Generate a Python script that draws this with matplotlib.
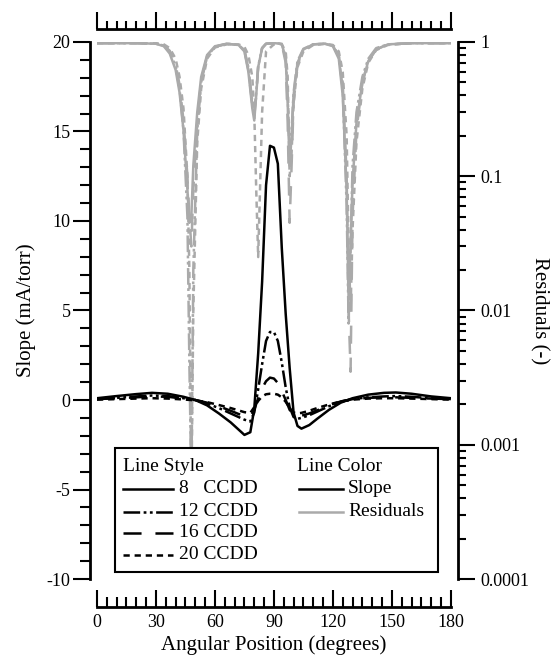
import numpy as np
import matplotlib
matplotlib.use("Agg")
import matplotlib.pyplot as plt
from matplotlib.lines import Line2D
from matplotlib.patches import Rectangle
from matplotlib.ticker import MultipleLocator, LogLocator, FuncFormatter, NullFormatter

plt.rcParams["font.family"] = ["Liberation Serif", "DejaVu Serif"]
plt.rcParams["axes.unicode_minus"] = False
plt.rcParams["lines.scale_dashes"] = False

# angular position (degrees) for slope curves
ang_slope = [0, 10, 20, 28, 36, 44, 50, 56, 62, 68, 72, 75, 78, 80, 82, 84, 86, 88, 90,
             92, 94, 96, 98, 100, 102, 104, 108, 112, 118, 124, 130, 138, 146, 152, 160, 170, 180]
slope_8 = [0.10, 0.22, 0.33, 0.40, 0.35, 0.18, 0.00, -0.30, -0.75, -1.25, -1.65, -1.95, -1.80,
           -0.50, 2.60, 6.60, 12.00, 14.20, 14.10, 13.20, 8.50, 4.80, 1.80, -0.70, -1.45, -1.60,
           -1.40, -1.05, -0.55, -0.15, 0.10, 0.30, 0.40, 0.42, 0.35, 0.20, 0.10]
slope_12 = [0.05, 0.12, 0.20, 0.25, 0.22, 0.10, 0.00, -0.20, -0.45, -0.75, -0.95, -1.10, -1.20,
            -0.70, 0.60, 2.00, 3.30, 3.80, 3.80, 3.30, 2.10, 0.70, -0.40, -0.95, -1.05, -1.00,
            -0.85, -0.65, -0.35, -0.10, 0.05, 0.15, 0.20, 0.22, 0.18, 0.10, 0.05]
slope_16 = [0.05, 0.10, 0.15, 0.20, 0.18, 0.08, 0.00, -0.15, -0.35, -0.60, -0.78, -0.90, -0.95,
            -0.55, 0.10, 0.65, 1.05, 1.25, 1.20, 0.95, 0.50, 0.00, -0.55, -0.85, -0.90, -0.88,
            -0.75, -0.58, -0.30, -0.08, 0.05, 0.12, 0.15, 0.15, 0.12, 0.08, 0.05]
slope_20 = [0.02, 0.05, 0.08, 0.10, 0.08, 0.03, -0.02, -0.12, -0.28, -0.45, -0.58, -0.68, -0.72,
            -0.40, -0.05, 0.20, 0.32, 0.35, 0.35, 0.30, 0.15, -0.10, -0.45, -0.70, -0.75, -0.72,
            -0.60, -0.45, -0.25, -0.08, 0.02, 0.08, 0.10, 0.10, 0.08, 0.05, 0.02]

# angular position (degrees) for residual curves
ang_res = [0, 20, 30, 34, 37, 40, 42, 44, 46, 47, 48, 49, 51, 53, 56, 60, 66, 72, 75, 77, 79,
           80, 81, 82, 84, 86, 90, 94, 96, 97, 98, 99, 100, 102, 105, 110, 116, 120, 123, 125,
           127, 128, 129, 130, 132, 135, 138, 142, 148, 160, 180]
res_8 = [0.98, 0.98, 0.97, 0.93, 0.82, 0.62, 0.42, 0.22, 0.08, 0.045, 0.05, 0.12, 0.30, 0.55,
         0.80, 0.93, 0.97, 0.95, 0.85, 0.60, 0.32, 0.26, 0.40, 0.65, 0.90, 0.97, 0.98, 0.97,
         0.75, 0.35, 0.12, 0.20, 0.40, 0.70, 0.88, 0.96, 0.97, 0.93, 0.75, 0.40, 0.08, 0.012,
         0.03, 0.09, 0.25, 0.50, 0.72, 0.88, 0.96, 0.98, 0.98]
res_12 = [0.98, 0.98, 0.97, 0.94, 0.85, 0.66, 0.45, 0.22, 0.05, 0.004, 0.0005, 0.02, 0.22, 0.50,
          0.78, 0.92, 0.97, 0.95, 0.87, 0.65, 0.36, 0.30, 0.42, 0.66, 0.90, 0.97, 0.98, 0.97,
          0.78, 0.40, 0.15, 0.22, 0.42, 0.72, 0.89, 0.96, 0.97, 0.94, 0.78, 0.45, 0.06, 0.008,
          0.03, 0.12, 0.30, 0.55, 0.75, 0.90, 0.96, 0.98, 0.98]
res_16 = [0.98, 0.98, 0.97, 0.94, 0.86, 0.68, 0.48, 0.26, 0.10, 0.05, 0.03, 0.08, 0.25, 0.52,
          0.78, 0.92, 0.97, 0.95, 0.86, 0.62, 0.34, 0.28, 0.40, 0.66, 0.90, 0.97, 0.98, 0.96,
          0.70, 0.25, 0.045, 0.12, 0.35, 0.68, 0.87, 0.96, 0.97, 0.94, 0.80, 0.50, 0.10, 0.01,
          0.0035, 0.05, 0.22, 0.50, 0.72, 0.88, 0.96, 0.98, 0.98]
res_20 = [0.98, 0.98, 0.98, 0.96, 0.90, 0.75, 0.55, 0.32, 0.10, 0.02, 0.0004, 0.01, 0.18, 0.45,
          0.75, 0.91, 0.96, 0.96, 0.92, 0.80, 0.55, 0.30, 0.08, 0.025, 0.30, 0.85, 0.96, 0.96,
          0.85, 0.55, 0.10, 0.15, 0.35, 0.65, 0.85, 0.95, 0.97, 0.95, 0.85, 0.60, 0.20, 0.03,
          0.01, 0.04, 0.18, 0.45, 0.70, 0.87, 0.95, 0.98, 0.98]

styles = {
    "8": "-",
    "12": (0, (12, 2.5, 2, 2.5, 2, 2.5)),
    "16": (0, (13, 10)),
    "20": (0, (4.5, 3.5)),
}
gray = "#aaaaaa"
lw = 1.8

fig = plt.figure(figsize=(5.59, 6.57), dpi=100)
ax = fig.add_axes([0.1735, 0.1187, 0.633, 0.8174])
ax2 = ax.twinx()

for key, s in zip(["8", "12", "16", "20"], [slope_8, slope_12, slope_16, slope_20]):
    ax.plot(ang_slope, s, color="black", lw=lw, ls=styles[key])
for key, r in zip(["8", "12", "16", "20"], [res_8, res_12, res_16, res_20]):
    ax2.plot(ang_res, r, color=gray, lw=lw, ls=styles[key])

ax.set_xlim(0, 180)
ax.set_ylim(-10, 20)
ax2.set_yscale("log")
ax2.set_ylim(1e-4, 1)

# left axis
ax.spines["left"].set_position(("outward", 5))
ax.spines["bottom"].set_position(("outward", 20))
ax.spines["top"].set_visible(False)
ax.spines["right"].set_visible(False)
for sp in ["left", "bottom"]:
    ax.spines[sp].set_linewidth(2)
ax.yaxis.set_major_locator(MultipleLocator(5))
ax.yaxis.set_minor_locator(MultipleLocator(1))
ax.tick_params(axis="y", which="major", direction="out", length=12, width=1.5, labelsize=13, pad=2)
ax.tick_params(axis="y", which="minor", direction="out", length=7, width=1.5)
ax.xaxis.set_major_locator(MultipleLocator(30))
ax.xaxis.set_minor_locator(MultipleLocator(5))
ax.tick_params(axis="x", which="major", direction="in", length=12, width=1.5, labelsize=13, pad=5)
ax.tick_params(axis="x", which="minor", direction="in", length=7, width=1.5)

# top axis (no labels)
top = ax.secondary_xaxis("top")
top.spines["top"].set_position(("outward", 9))
top.spines["top"].set_linewidth(2)
top.xaxis.set_major_locator(MultipleLocator(30))
top.xaxis.set_minor_locator(MultipleLocator(5))
top.tick_params(which="major", direction="out", length=12, width=1.5, labeltop=False)
top.tick_params(which="minor", direction="out", length=6, width=1.5)

# right axis
for sp in ["left", "top", "bottom"]:
    ax2.spines[sp].set_visible(False)
ax2.spines["right"].set_position(("outward", 5))
ax2.spines["right"].set_linewidth(2)
ax2.yaxis.set_major_locator(LogLocator(base=10))
ax2.yaxis.set_minor_locator(LogLocator(base=10, subs=np.arange(2, 10)))
ax2.yaxis.set_major_formatter(FuncFormatter(lambda v, p: "%g" % v))
ax2.yaxis.set_minor_formatter(NullFormatter())
ax2.tick_params(which="major", direction="out", length=12, width=1.5, labelsize=13, pad=4)
ax2.tick_params(which="minor", direction="out", length=6, width=1.5)

ax.set_xlabel("Angular Position (degrees)", fontsize=15, labelpad=3)
ax.set_ylabel("Slope (mA/torr)", fontsize=15, labelpad=8)
ax2.set_ylabel("Residuals (-)", fontsize=15, rotation=270, labelpad=14)

# legend box
ax.add_patch(Rectangle((0.051, 0.013), 0.912, 0.231, transform=ax.transAxes,
                       fill=True, facecolor="white", edgecolor="black", lw=1.5, zorder=5))
fs = 14
rows = [0.209, 0.168, 0.125, 0.086, 0.045]
ax.text(0.073, rows[0], "Line Style", transform=ax.transAxes, fontsize=fs, va="center", zorder=6)
for row, key, lab in zip(rows[1:], ["8", "12", "16", "20"],
                         ["8   CCDD", "12 CCDD", "16 CCDD", "20 CCDD"]):
    ax.add_line(Line2D([0.074, 0.215], [row, row], transform=ax.transAxes, color="black",
                       lw=lw, ls=styles[key], zorder=6))
    ax.text(0.233, row, lab, transform=ax.transAxes, fontsize=fs, va="center", zorder=6)
ax.text(0.565, rows[0], "Line Color", transform=ax.transAxes, fontsize=fs, va="center", zorder=6)
for row, col, lab in zip(rows[1:3], ["black", gray], ["Slope", "Residuals"]):
    ax.add_line(Line2D([0.571, 0.695], [row, row], transform=ax.transAxes, color=col,
                       lw=lw, zorder=6))
    ax.text(0.71, row, lab, transform=ax.transAxes, fontsize=fs, va="center", zorder=6)

ax.set_zorder(ax2.get_zorder() + 1)
ax.patch.set_visible(False)

fig.savefig("out.png", dpi=100)
